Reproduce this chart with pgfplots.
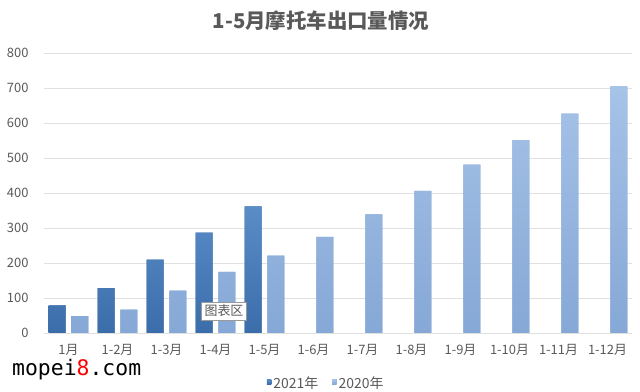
\documentclass[border=0pt]{standalone}
\usepackage{pgfplots}
\pgfplotsset{compat=1.18}
\usepackage{fontspec}
\setmainfont{Noto Sans CJK SC}
\newfontfamily\wmfont{DejaVu Sans Mono}
\definecolor{txt}{HTML}{595959}
\definecolor{gridc}{HTML}{E0E0E0}
\definecolor{darkA}{HTML}{5A8DC8}
\definecolor{darkB}{HTML}{3A6DA9}
\definecolor{lightA}{HTML}{A6C3E8}
\definecolor{lightB}{HTML}{86A8D6}
\begin{document}
\begin{tikzpicture}
\useasboundingbox (0,0) rectangle (640bp,392bp);
\begin{axis}[
  at={(44bp,59bp)}, anchor=south west,
  scale only axis, width=588bp, height=280bp,
  xmin=-0.5, xmax=11.5, ymin=0, ymax=800,
  ytick={0,100,...,800},
  xtick={0,...,11},
  xticklabels={1月,1-2月,1-3月,1-4月,1-5月,1-6月,1-7月,1-8月,1-9月,1-10月,1-11月,1-12月},
  ybar=5.7bp, bar width=17bp,
  axis line style={draw=none},
  major tick length=0pt,
  xmajorgrids=false, ymajorgrids=true,
  grid style={draw=gridc, line width=0.8pt},
  /pgf/number format/assume math mode=true,
  ticklabel style={font=\fontsize{13}{15}\selectfont, text=txt},
  yticklabel style={xshift=-12bp},
  xticklabel style={yshift=-8bp},
  legend style={at={(0.48,-0.14)}, anchor=north, draw=none, legend columns=2,
    font=\fontsize{14}{16}\selectfont, text=txt,
    /tikz/every even column/.append style={column sep=12bp}},
  legend image code/.code={\fill[#1] (0,-0.12em) rectangle (0.45em,0.38em);},
]
\draw[gridc, line width=0.8pt] (axis cs:-0.5,0) -- (axis cs:11.5,0);
\addplot[draw=none, top color=darkA, bottom color=darkB, fill=darkB] coordinates {
(0,79) (1,128) (2,210) (3,287) (4,362)};
\addlegendentry{2021年}
\addplot[draw=none, top color=lightA, bottom color=lightB, fill=lightB] coordinates {
(0,48) (1,67) (2,121) (3,175) (4,221) (5,275) (6,339) (7,406) (8,481) (9,551) (10,627) (11,705)};
\addlegendentry{2020年}
\end{axis}
\node[font=\bfseries\fontsize{20.5}{22}\selectfont, text=txt] at (321bp,371bp) {1-5月摩托车出口量情况};
\node[draw=black!40, fill=white, inner sep=3bp, font=\fontsize{13}{15}\selectfont, text=txt] at (224bp,81bp) {图表区};
\node[anchor=west, inner sep=0pt, font=\wmfont\fontsize{21.5}{24}\selectfont] at (12bp,22bp) {mopei\textcolor{red}{8}.com};
\end{tikzpicture}
\end{document}
